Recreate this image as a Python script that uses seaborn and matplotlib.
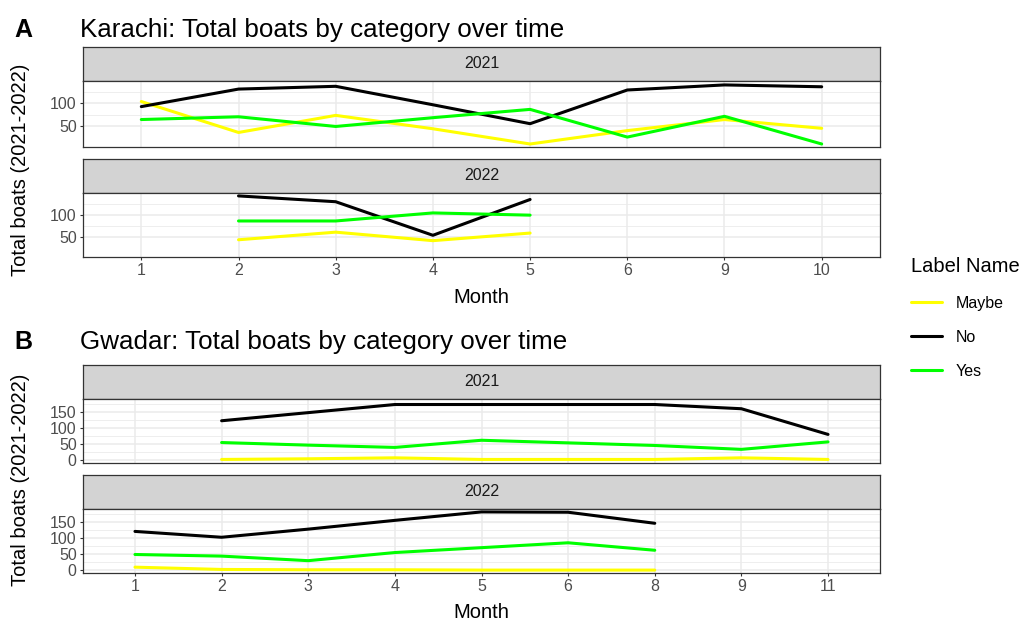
import numpy as np
import pandas as pd
import matplotlib.pyplot as plt
import seaborn as sns

# months shown on each city's x axis (discrete scale)
karachi_months = [1, 2, 3, 4, 5, 6, 9, 10]
gwadar_months = [1, 2, 3, 4, 5, 6, 8, 9, 11]

# Karachi
k21_months = [1, 2, 3, 4, 5, 6, 9, 10]
k21_maybe = [104, 37, 74, 45, 12, 41, 65, 46]
k21_no = [93, 131, 137, 97, 56, 129, 140, 136]
k21_yes = [65, 71, 50, 69, 87, 27, 72, 12]
k22_months = [2, 3, 4, 5]
k22_maybe = [44, 61, 42, 59]
k22_no = [142, 129, 54, 134]
k22_yes = [86, 86, 104, 99]

# Gwadar
g21_months = [2, 3, 4, 5, 6, 8, 9, 11]
g21_maybe = [3, 5, 8, 3, 3, 3, 8, 3]
g21_no = [122, 147, 172, 172, 172, 172, 159, 80]
g21_yes = [55, 47, 40, 62, 54, 46, 34, 57]
g22_months = [1, 2, 3, 4, 5, 6, 8]
g22_maybe = [10, 3, 2, 2, 1, 1, 1]
g22_no = [120, 102, 127, 154, 180, 179, 145]
g22_yes = [49, 44, 30, 55, 70, 85, 62]

labels = ["Maybe", "No", "Yes"]
palette = {"Maybe": "#FFFF00", "No": "#000000", "Yes": "#00FF00"}


def make_df(months, maybe, no, yes, axis_months):
    rows = []
    for lab, vals in zip(labels, [maybe, no, yes]):
        for m, v in zip(months, vals):
            rows.append({"Month": m, "pos": axis_months.index(m), "Label Name": lab, "Total": v})
    return pd.DataFrame(rows)


karachi = {2021: make_df(k21_months, k21_maybe, k21_no, k21_yes, karachi_months),
           2022: make_df(k22_months, k22_maybe, k22_no, k22_yes, karachi_months)}
gwadar = {2021: make_df(g21_months, g21_maybe, g21_no, g21_yes, gwadar_months),
          2022: make_df(g22_months, g22_maybe, g22_no, g22_yes, gwadar_months)}

sns.set_theme(style="white")
plt.rcParams['font.family'] = ['Liberation Sans', 'DejaVu Sans']
plt.rcParams['text.color'] = 'black'

W, H = 1020, 625
fig = plt.figure(figsize=(W / 100, H / 100), dpi=100)


def rect(x0, y0, x1, y1):
    # pixel box (y down) -> figure fraction
    return [x0 / W, 1 - y1 / H, (x1 - x0) / W, (y1 - y0) / H]


grid_col = "#EBEBEB"
border = "#333333"
handles = None


def draw_city(data, axis_months, strips, panels, tag, title, tag_y, ylab_y, major):
    global handles
    allv = pd.concat(data.values())["Total"]
    lo, hi = allv.min(), allv.max()
    pad = (hi - lo) * 0.05
    ylim = (lo - pad, hi + pad)
    minor = [(a + b) / 2 for a, b in zip(major[:-1], major[1:])] + [major[-1] + (major[1] - major[0]) / 2]
    n = len(axis_months)
    for i, year in enumerate([2021, 2022]):
        sy0, sy1 = strips[i]
        py1 = panels[i]
        sax = fig.add_axes(rect(83, sy0, 880, sy1))
        sax.set_facecolor("#D3D3D3")
        sax.set_xticks([]); sax.set_yticks([])
        for s in sax.spines.values():
            s.set_color(border); s.set_linewidth(0.9)
        sax.text(0.5, 0.5, str(year), ha="center", va="center", fontsize=11.5, color="#1A1A1A",
                 transform=sax.transAxes)

        ax = fig.add_axes(rect(83, sy1, 880, py1))
        ax.set_facecolor("white")
        for y in minor:
            ax.axhline(y, color=grid_col, lw=0.6, zorder=0)
        for y in major:
            ax.axhline(y, color=grid_col, lw=1.1, zorder=0)
        for x in range(n):
            ax.axvline(x, color=grid_col, lw=1.1, zorder=0)
        sns.lineplot(data=data[year], x="pos", y="Total", hue="Label Name", hue_order=labels,
                     palette=palette, linewidth=2.2, ax=ax, legend=(handles is None), sort=True)
        if handles is None:
            handles, _ = ax.get_legend_handles_labels()
        if ax.get_legend() is not None:
            ax.get_legend().remove()
        ax.set_xlim(-0.6, n - 0.4)
        ax.set_ylim(*ylim)
        ax.set_yticks(major)
        ax.set_yticklabels([str(v) for v in major], fontsize=11.5, color="#4D4D4D")
        ax.set_xticks(range(n))
        if i == 1:
            ax.set_xticklabels([str(m) for m in axis_months], fontsize=11.5, color="#4D4D4D")
        else:
            ax.set_xticklabels([])
            ax.tick_params(axis="x", length=0)
        ax.tick_params(axis="both", which="major", length=2.5, width=0.8, color=border, pad=2,
                       bottom=(i == 1), left=True)
        ax.set_xlabel(""); ax.set_ylabel("")
        for s in ax.spines.values():
            s.set_color(border); s.set_linewidth(0.9)
    bottom_y = panels[1]
    fig.text(481 / W, 1 - (bottom_y + 40) / H, "Month", ha="center", va="center", fontsize=14.5)
    fig.text(14 / W, 1 - tag_y / H, tag, ha="left", va="baseline", fontsize=18, fontweight="bold")
    fig.text(80 / W, 1 - tag_y / H, title, ha="left", va="baseline", fontsize=18.7)
    fig.text(21 / W, 1 - ylab_y / H, "Total boats (2021-2022)", rotation=90, ha="center",
             va="center", fontsize=14.5)


draw_city(karachi, karachi_months, [(47, 81), (159, 193)], [147, 257], "A",
          "Karachi: Total boats by category over time", 37, 170, [50, 100])
draw_city(gwadar, gwadar_months, [(365, 399), (475, 509)], [463, 573], "B",
          "Gwadar: Total boats by category over time", 349, 480, [0, 50, 100, 150])

leg = fig.legend(handles, labels, title="Label Name", loc="upper left",
                 bbox_to_anchor=(897 / W, 1 - 243 / H), frameon=False, fontsize=11.5,
                 title_fontsize=14.5, handlelength=1.9, labelspacing=1.2, handletextpad=0.9)
leg._legend_box.align = "left"
for h in leg.legend_handles:
    h.set_linewidth(2.2)

fig.savefig("out.png", dpi=100)
